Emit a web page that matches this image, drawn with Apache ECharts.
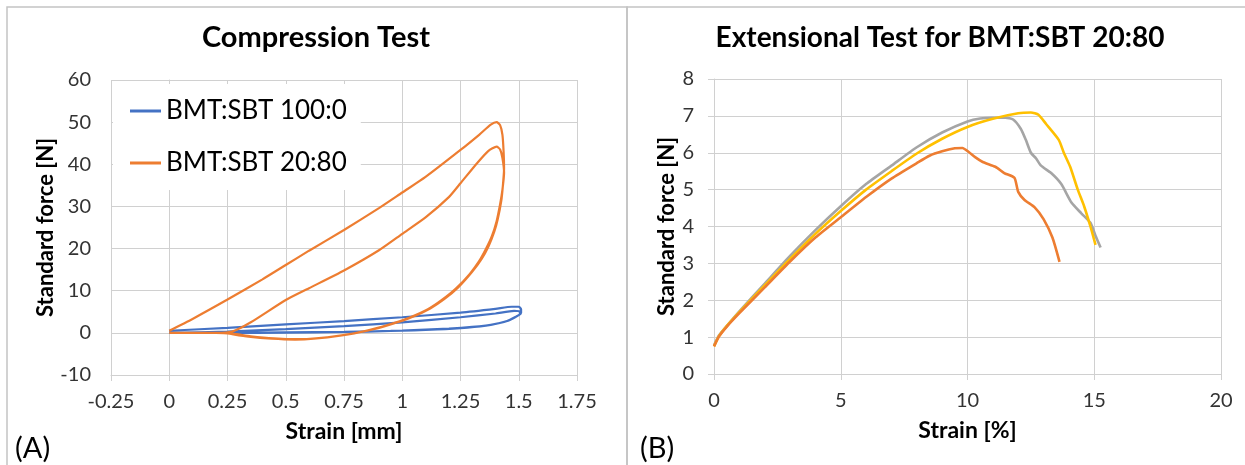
<!DOCTYPE html>
<html lang="en">
<head>
    <meta charset="UTF-8">
    <title>Compression and extensional tests</title>
    <script src="https://cdn.jsdelivr.net/npm/echarts@6/dist/echarts.min.js"></script>
    <style>
        html, body {
            margin: 0;
            padding: 0;
            background: #fff;
        }
        #chart {
            width: 1245px;
            height: 465px;
        }
    </style>
</head>
<body>
<div id="chart"></div>
<script>
    // compression test, [strain mm, force N], two load/unload cycles each
    let comp100 = [
        [0, 0.5], [0.25, 1.2], [0.5, 2.0], [0.75, 2.8], [1.0, 3.7], [1.25, 4.8], [1.4, 5.7], [1.47, 6.2],
        [1.5, 6.2], [1.51, 5.6], [1.51, 4.8], [1.5, 4.2], [1.46, 3.0], [1.4, 2.1], [1.3, 1.4], [1.2, 1.0],
        [1.0, 0.55], [0.75, 0.25], [0.5, 0.1], [0.25, 0.0], [0, 0.0],
        [0.25, 0.3], [0.5, 0.9], [0.75, 1.6], [1.0, 2.5], [1.25, 3.7], [1.4, 4.6], [1.48, 5.2], [1.505, 5.1],
        [1.505, 4.4], [1.49, 3.9], [1.45, 2.8], [1.38, 1.9], [1.28, 1.25], [1.15, 0.8], [0.95, 0.45],
        [0.75, 0.2], [0.5, 0.05], [0.25, 0], [0.05, 0]
    ];
    let comp2080 = [
        [0, 0.5], [0.1, 3.3], [0.25, 7.9], [0.4, 12.7], [0.5, 16.1], [0.6, 19.5], [0.75, 24.4], [0.9, 29.6],
        [1.0, 33.3], [1.1, 37], [1.25, 43.4], [1.33, 47], [1.38, 49.4], [1.405, 50], [1.42, 49.3], [1.43, 47],
        [1.435, 43], [1.437, 39],
        [1.432, 35], [1.425, 31.3], [1.41, 27], [1.395, 24], [1.37, 20.5], [1.34, 17.5], [1.3, 14.5],
        [1.24, 10.8], [1.18, 8], [1.12, 5.8], [1.04, 3.7], [0.95, 2], [0.85, 0.5], [0.75, -0.5], [0.63, -1.3],
        [0.55, -1.5], [0.45, -1.3], [0.35, -0.8], [0.27, -0.2], [0.2, 0], [0, 0],
        [0.2, 0], [0.27, 0.3], [0.35, 2.5], [0.5, 7.8], [0.6, 10.6], [0.75, 14.8], [0.9, 19.6], [1.0, 23.5],
        [1.1, 27.4], [1.2, 32.2], [1.25, 35.5], [1.32, 40.2], [1.37, 43.2], [1.405, 44.2], [1.42, 43.5],
        [1.43, 41.5], [1.437, 38],
        [1.43, 34], [1.42, 30.5], [1.405, 26.5], [1.385, 23], [1.36, 20], [1.33, 17], [1.29, 14], [1.23, 10.5],
        [1.17, 7.8], [1.11, 5.6], [1.03, 3.6], [0.94, 1.9], [0.84, 0.4], [0.74, -0.6], [0.62, -1.4],
        [0.54, -1.6], [0.44, -1.4], [0.34, -0.9], [0.27, -0.3], [0.24, 0]
    ];

    // extensional test, [strain %, force N], three samples
    let extGray = [
        [0, 0.78], [0.2, 1.05], [0.5, 1.3], [1, 1.7], [2, 2.45], [3, 3.2], [4, 3.9], [5, 4.55], [6, 5.15],
        [7, 5.65], [8, 6.15], [9, 6.55], [10, 6.85], [10.5, 6.93], [11, 6.95], [11.5, 6.95], [11.8, 6.9],
        [12.1, 6.65], [12.3, 6.35], [12.5, 6.0], [12.7, 5.85], [12.9, 5.65], [13.3, 5.45], [13.7, 5.15],
        [14.1, 4.65], [14.5, 4.35], [14.85, 4.1], [15.05, 3.75], [15.25, 3.43]
    ];
    let extYellow = [
        [0, 0.75], [0.2, 1.03], [0.5, 1.3], [1, 1.68], [2, 2.4], [3, 3.12], [4, 3.8], [5, 4.42], [6, 5.0],
        [7, 5.5], [8, 5.98], [9, 6.38], [10, 6.7], [11, 6.92], [12, 7.07], [12.5, 7.09], [12.8, 7.03],
        [13.1, 6.78], [13.6, 6.35], [13.8, 6.0], [14.05, 5.62], [14.35, 5.0], [14.6, 4.55], [14.85, 4.0],
        [15.05, 3.5]
    ];
    let extOrange = [
        [0, 0.75], [0.2, 1.02], [0.5, 1.28], [1, 1.65], [2, 2.35], [3, 3.05], [4, 3.7], [5, 4.25], [6, 4.8],
        [7, 5.3], [8, 5.72], [8.5, 5.92], [9, 6.04], [9.5, 6.12], [9.8, 6.13], [10.05, 6.02], [10.3, 5.88],
        [10.6, 5.75], [11.1, 5.62], [11.45, 5.45], [11.85, 5.32], [12.0, 4.94], [12.25, 4.72], [12.65, 4.52],
        [13.0, 4.2], [13.35, 3.7], [13.63, 3.04]
    ];

    let font = "Lato, 'Open Sans', sans-serif";
    let gridColor = '#d0d0d0';
    let labelColor = '#333';

    function xAxisOf(gridIndex, min, max, interval, name) {
        return {
            gridIndex: gridIndex, type: 'value', min: min, max: max, interval: interval,
            name: name, nameLocation: 'middle', nameGap: 45,
            nameTextStyle: {fontFamily: font, fontWeight: 'bold', fontSize: 23, color: '#000'},
            axisLine: {onZero: false, lineStyle: {color: gridColor}},
            axisTick: {show: true, length: 6, lineStyle: {color: gridColor}},
            axisLabel: {margin: 17, fontFamily: font, fontSize: 20, color: labelColor},
            splitLine: {show: true, lineStyle: {color: gridColor}}
        };
    }

    function yAxisOf(gridIndex, min, max, interval, gap) {
        return {
            gridIndex: gridIndex, type: 'value', min: min, max: max, interval: interval,
            name: 'Standard force [N]', nameLocation: 'middle', nameGap: gap,
            nameTextStyle: {fontFamily: font, fontWeight: 'bold', fontSize: 22, color: '#000'},
            axisLine: {show: true, lineStyle: {color: gridColor}},
            axisTick: {show: true, length: 6, lineStyle: {color: gridColor}},
            axisLabel: {margin: 20, fontFamily: font, fontSize: 20, color: labelColor},
            splitLine: {show: true, lineStyle: {color: gridColor}}
        };
    }

    function lineOf(name, data, color, xi, width) {
        return {
            name: name, type: 'line', data: data, xAxisIndex: xi, yAxisIndex: xi,
            showSymbol: false, smooth: 0.2, animation: false,
            lineStyle: {color: color, width: width}, itemStyle: {color: color}
        };
    }

    let options = {
        animation: false,
        grid: [
            {left: 111, right: 668, top: 80, bottom: 90},
            {left: 714, right: 24, top: 79, bottom: 91}
        ],
        xAxis: [
            xAxisOf(0, -0.25, 1.75, 0.25, 'Strain [mm]'),
            xAxisOf(1, 0, 20, 5, 'Strain [%]')
        ],
        yAxis: [
            yAxisOf(0, -10, 60, 10, 54),
            yAxisOf(1, 0, 8, 1, 36)
        ],
        legend: {
            data: ['BMT:SBT 100:0', 'BMT:SBT 20:80'],
            orient: 'vertical',
            left: 113, top: 84,
            padding: [14, 14, 14, 17],
            itemGap: 26,
            itemWidth: 31, itemHeight: 3,
            icon: 'rect',
            backgroundColor: '#fff',
            textStyle: {fontFamily: font, fontSize: 26, color: '#000', padding: [0, 0, 0, 0]}
        },
        series: [
            lineOf('BMT:SBT 100:0', comp100, '#4472C4', 0, 2.2),
            lineOf('BMT:SBT 20:80', comp2080, '#ED7D31', 0, 2.2),
            lineOf('grey', extGray, '#A5A5A5', 1, 2.6),
            lineOf('yellow', extYellow, '#FFC000', 1, 2.6),
            lineOf('orange', extOrange, '#ED7D31', 1, 2.6)
        ],
        graphic: [
            {type: 'rect', shape: {x: 7, y: 7, width: 620, height: 480}, style: {fill: 'none', stroke: '#c4c4c4', lineWidth: 1.5}, silent: true},
            {type: 'rect', shape: {x: 627, y: 7, width: 640, height: 480}, style: {fill: 'none', stroke: '#c4c4c4', lineWidth: 1.5}, silent: true},
            {type: 'text', style: {x: 316, y: 38, text: 'Compression Test', textAlign: 'center', textVerticalAlign: 'middle', font: 'bold 29px ' + font, fill: '#000'}},
            {type: 'text', style: {x: 940, y: 38, text: 'Extensional Test for BMT:SBT 20:80', textAlign: 'center', textVerticalAlign: 'middle', font: 'bold 28px ' + font, fill: '#000'}},
            {type: 'text', style: {x: 15, y: 449, text: '(A)', textVerticalAlign: 'middle', font: '29px ' + font, fill: '#000'}},
            {type: 'text', style: {x: 640, y: 449, text: '(B)', textVerticalAlign: 'middle', font: '29px ' + font, fill: '#000'}}
        ]
    };

    let chart = echarts.init(document.getElementById('chart'));
    chart.setOption(options);
</script>
</body>
</html>
